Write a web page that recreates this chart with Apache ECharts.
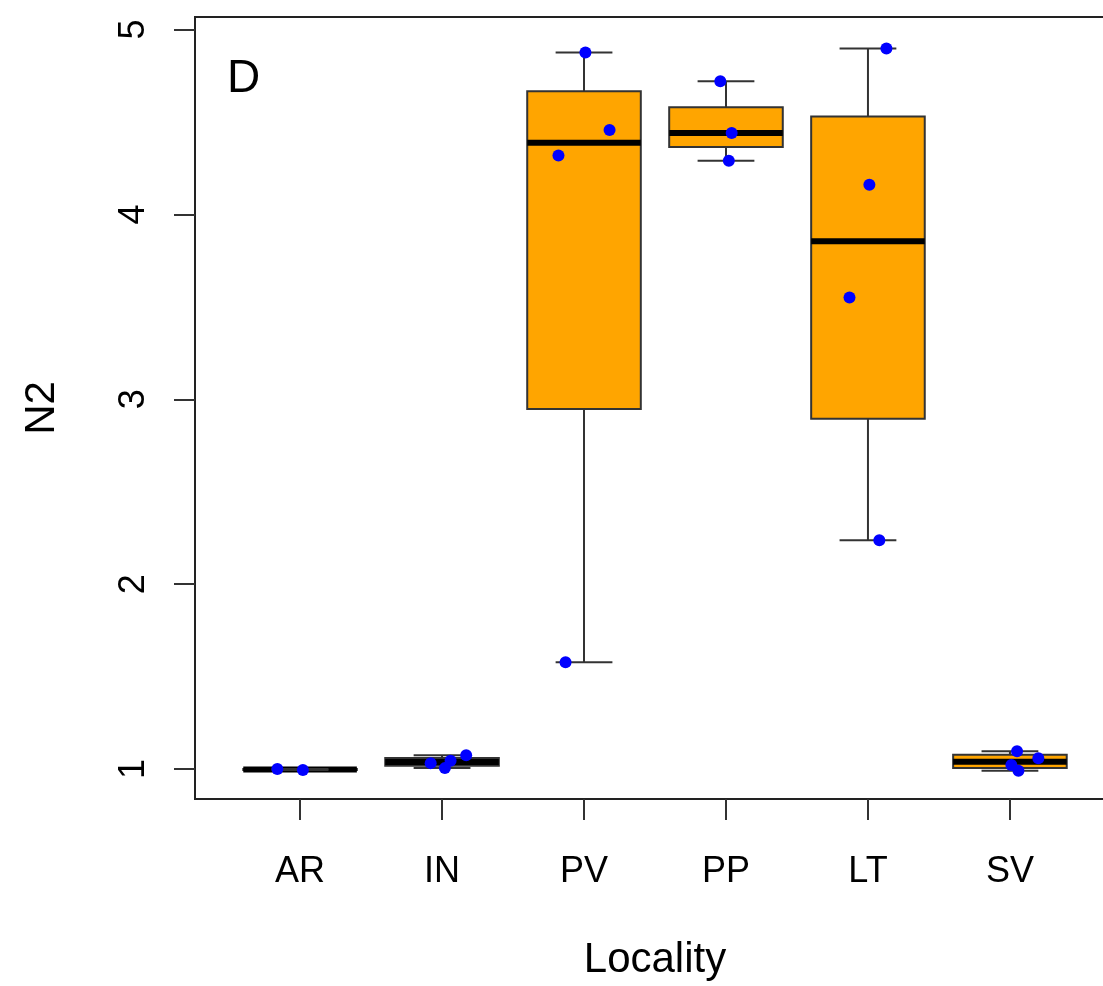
<!DOCTYPE html>
<html>
<head>
<meta charset="utf-8">
<title>N2 by Locality</title>
<script src="https://cdn.jsdelivr.net/npm/echarts@6/dist/echarts.min.js"></script>
<style>
  html, body { margin: 0; padding: 0; background: #fff; overflow: hidden; }
  /* the plot frame runs slightly past the right edge of the window */
  #chart { width: 1140px; height: 986px; }
</style>
</head>
<body>
<div id="chart"></div>
<script>
// Localities along the x axis
const categories = ['AR', 'IN', 'PV', 'PP', 'LT', 'SV'];

// Box statistics per locality (whisker low, lower hinge, median, upper hinge, whisker high)
const boxMin    = [0.995, 1.005, 1.578, 4.29, 2.238, 0.991];
const boxQ1     = [0.995, 1.018, 2.948, 4.365, 2.894, 1.006];
const boxMedian = [0.998, 1.038, 4.388, 4.44, 3.855, 1.040];
const boxQ3     = [1.000, 1.060, 4.666, 4.58, 4.530, 1.077];
const boxMax    = [1.000, 1.075, 4.876, 4.72, 4.897, 1.096];

// Individual observations per locality, with their horizontal jitter (in category units)
const pointValues = [
  [1.000, 0.995],
  [1.032, 1.045, 1.005, 1.075],
  [4.876, 4.456, 4.319, 1.578],
  [4.720, 4.440, 4.290],
  [4.897, 4.160, 3.550, 2.238],
  [1.096, 1.058, 1.022, 0.991]
];
const pointJitter = [
  [-0.16, 0.02],
  [-0.08, 0.06, 0.02, 0.17],
  [0.01, 0.18, -0.18, -0.13],
  [-0.04, 0.04, 0.02],
  [0.13, 0.01, -0.13, 0.08],
  [0.05, 0.20, 0.01, 0.06]
];

const yTicks = [1, 2, 3, 4, 5];
const xTicks = categories.map((c, i) => i + 1);

const FONT = '"Liberation Sans", Arial, Helvetica, sans-serif';

const boxData = categories.map((c, i) => [i + 1, boxMin[i], boxQ1[i], boxMedian[i], boxQ3[i], boxMax[i]]);

const pointData = [];
pointValues.forEach((vals, i) => {
  vals.forEach((v, j) => pointData.push([i + 1 + pointJitter[i][j], v]));
});

function renderBox(params, api) {
  const x = api.value(0);
  const pMin = api.coord([x, api.value(1)]);
  const pQ1 = api.coord([x, api.value(2)]);
  const pMed = api.coord([x, api.value(3)]);
  const pQ3 = api.coord([x, api.value(4)]);
  const pMax = api.coord([x, api.value(5)]);
  const cx = pMed[0];
  const halfBox = api.size([0.4, 0])[0];
  const halfCap = api.size([0.2, 0])[0];
  const whisker = { stroke: '#333', lineWidth: 2 };
  return {
    type: 'group',
    children: [
      { type: 'rect', shape: { x: cx - halfBox, y: pQ3[1], width: halfBox * 2, height: pQ1[1] - pQ3[1] },
        style: { fill: '#FFA500', stroke: '#333', lineWidth: 2 } },
      { type: 'line', shape: { x1: cx - halfBox, y1: pMed[1], x2: cx + halfBox, y2: pMed[1] },
        style: { stroke: '#000', lineWidth: 6 } },
      { type: 'line', shape: { x1: cx, y1: pQ3[1], x2: cx, y2: pMax[1] }, style: whisker },
      { type: 'line', shape: { x1: cx, y1: pQ1[1], x2: cx, y2: pMin[1] }, style: whisker },
      { type: 'line', shape: { x1: cx - halfCap, y1: pMax[1], x2: cx + halfCap, y2: pMax[1] }, style: whisker },
      { type: 'line', shape: { x1: cx - halfCap, y1: pMin[1], x2: cx + halfCap, y2: pMin[1] }, style: whisker }
    ]
  };
}

const chart = echarts.init(document.getElementById('chart'), null, { renderer: 'canvas' });

chart.setOption({
  animation: false,
  backgroundColor: '#fff',
  textStyle: { fontFamily: FONT },
  grid: {
    left: 195, top: 17, width: 920, height: 783,
    show: true, borderColor: '#222', borderWidth: 2, backgroundColor: 'transparent'
  },
  xAxis: {
    type: 'value', min: 0.26, max: 6.74,
    axisLine: { show: false },
    splitLine: { show: false },
    axisTick: { show: true, customValues: xTicks, length: 21, lineStyle: { color: '#333', width: 2 } },
    axisLabel: {
      customValues: xTicks, fontSize: 36, color: '#000', margin: 55, fontFamily: FONT,
      formatter: v => categories[Math.round(v) - 1]
    },
    name: 'Locality', nameLocation: 'middle', nameGap: 140,
    nameTextStyle: { fontSize: 42, color: '#000', fontFamily: FONT }
  },
  yAxis: {
    type: 'value', min: 0.838, max: 5.0675,
    axisLine: { show: false },
    splitLine: { show: false },
    axisTick: { show: true, customValues: yTicks, length: 21, lineStyle: { color: '#333', width: 2 } },
    axisLabel: {
      customValues: yTicks, fontSize: 36, color: '#000', margin: 43, rotate: 90, fontFamily: FONT
    },
    name: 'N2', nameLocation: 'middle', nameGap: 132, nameRotate: 90,
    nameTextStyle: { fontSize: 42, color: '#000', fontFamily: FONT }
  },
  graphic: [
    { type: 'text', left: 227, top: 56, style: { text: 'D', fontSize: 46, fill: '#000', fontFamily: FONT } }
  ],
  series: [
    {
      type: 'custom', name: 'box', renderItem: renderBox, data: boxData,
      encode: { x: 0, y: [1, 2, 3, 4, 5] }, z: 2
    },
    {
      type: 'scatter', name: 'obs', data: pointData, symbolSize: 12,
      itemStyle: { color: '#0000FF', opacity: 1 }, z: 3
    }
  ]
});
</script>
</body>
</html>
